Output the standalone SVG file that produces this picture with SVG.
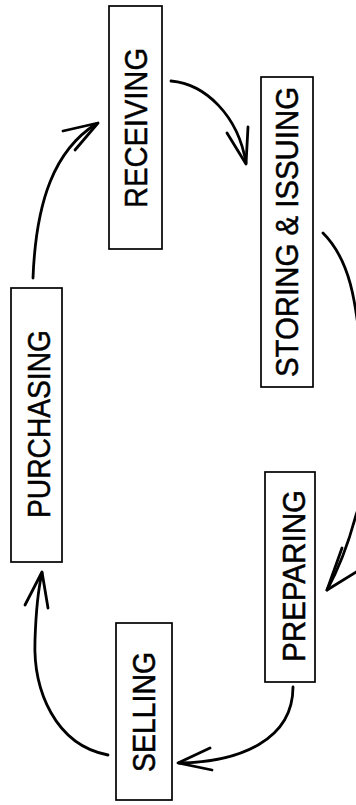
<svg xmlns="http://www.w3.org/2000/svg" width="356" height="805" viewBox="0 0 356 805">
<style>
.box{fill:#fff;stroke:#000;stroke-width:1.7}
.lbl{font-family:"Liberation Sans",Arial,sans-serif;font-size:32px;fill:#000;stroke:#000;stroke-width:0.5;text-anchor:middle}
.con{fill:none;stroke:#000;stroke-width:2.8;stroke-linecap:round;stroke-linejoin:round}
</style>
<rect width="356" height="805" fill="#fff"/>
<g id="connectors">
<path class="con" d="M33,278 C36,200 55,150 96,124"/>
<path class="con" d="M63,131 L98,123 L75,150"/>
<path class="con" d="M171,81 C205,84 238,115 246,163"/>
<path class="con" d="M227,133 L246,164 L248,127"/>
<path class="con" d="M323,233 C350,260 356,300 362,360 C372,440 365,490 356,515 C348,545 338,570 327,590"/>
<path class="con" d="M342,548 L327,590 L358,571"/>
<path class="con" d="M293,687 C293,740 240,762 179,763"/>
<path class="con" d="M210,748 L178,763 L212,770"/>
<path class="con" d="M108,755 C55,745 33,690 35,640 C36,610 38,590 42,573"/>
<path class="con" d="M25,605 L42,572 L48,608"/>
</g>
<g id="receiving">
<rect class="box" x="109" y="6" width="53" height="243"/>
<text class="lbl" transform="translate(147,128) rotate(-90)" textLength="160" lengthAdjust="spacingAndGlyphs">RECEIVING</text>
</g>
<g id="storing">
<rect class="box" x="261" y="77" width="52" height="310"/>
<text class="lbl" transform="translate(298,232) rotate(-90)" textLength="290" lengthAdjust="spacingAndGlyphs">STORING &amp; ISSUING</text>
</g>
<g id="purchasing">
<rect class="box" x="11" y="288" width="51" height="274"/>
<text class="lbl" transform="translate(50,424) rotate(-90)" textLength="188" lengthAdjust="spacingAndGlyphs">PURCHASING</text>
</g>
<g id="preparing">
<rect class="box" x="265" y="472" width="50" height="210"/>
<text class="lbl" transform="translate(305,576) rotate(-90)" textLength="172" lengthAdjust="spacingAndGlyphs">PREPARING</text>
</g>
<g id="selling">
<rect class="box" x="116" y="623" width="56" height="177"/>
<text class="lbl" transform="translate(155,712) rotate(-90)" textLength="120" lengthAdjust="spacingAndGlyphs">SELLING</text>
</g>
</svg>
